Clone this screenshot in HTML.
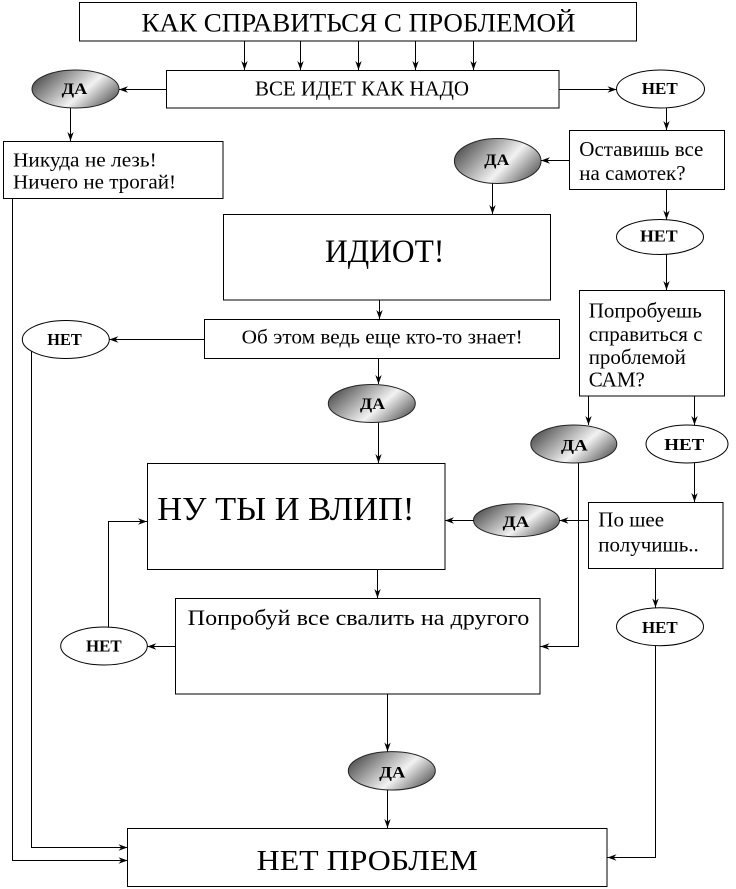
<!DOCTYPE html>
<html><head><meta charset="utf-8"><style>
html,body{margin:0;padding:0;background:#fff;}
svg{display:block;}
text{font-family:"Liberation Serif","DejaVu Serif",serif;fill:#000;}
.b{font-weight:bold;}
</style></head><body>
<svg width="736" height="889" viewBox="0 0 736 889" xmlns="http://www.w3.org/2000/svg">
<defs>
<marker id="a" markerUnits="userSpaceOnUse" markerWidth="10" markerHeight="8" refX="9" refY="4" orient="auto">
<path d="M0,0.8 L9,4 L0,7.2 L2.8,4 z" fill="#000"/>
</marker>
<linearGradient id="g" x1="0" y1="0.25" x2="1" y2="0.75">
<stop offset="0" stop-color="#4c4c4c"/>
<stop offset="0.6" stop-color="#f2f2f2"/>
<stop offset="1" stop-color="#5a5a5a"/>
</linearGradient>
</defs>
<g fill="#fff" stroke="#000" stroke-width="1">
<rect x="79.5" y="2.5" width="557" height="38.5"/>
<rect x="166.5" y="70.5" width="392.5" height="37.5"/>
<rect x="3.5" y="141.5" width="219.5" height="57"/>
<rect x="569.5" y="130.5" width="155" height="59"/>
<rect x="223.5" y="214.5" width="327" height="85.5"/>
<rect x="204.5" y="319.5" width="355" height="39"/>
<rect x="579.5" y="290.5" width="145" height="105.5"/>
<rect x="147.5" y="463.5" width="297.5" height="106"/>
<rect x="588.5" y="502.5" width="134.5" height="66"/>
<rect x="175.5" y="598.5" width="364.5" height="95.5"/>
<rect x="127.5" y="828.5" width="479.5" height="58"/>
</g>
<g fill="#fff" stroke="#000" stroke-width="1">
<ellipse cx="660.5" cy="89" rx="44" ry="19"/>
<ellipse cx="660" cy="237" rx="43.5" ry="17.5"/>
<ellipse cx="65.8" cy="339.5" rx="43.5" ry="19"/>
<ellipse cx="687" cy="444" rx="41" ry="19"/>
<ellipse cx="104" cy="646" rx="43.3" ry="19"/>
<ellipse cx="660" cy="626.7" rx="43.5" ry="19"/>
</g>
<g fill="url(#g)" stroke="#222" stroke-width="1">
<ellipse cx="75.5" cy="89" rx="43.5" ry="19"/>
<ellipse cx="497.7" cy="161" rx="43.3" ry="22.5"/>
<ellipse cx="371.8" cy="403.5" rx="43.5" ry="19"/>
<ellipse cx="573.8" cy="444" rx="43" ry="19"/>
<ellipse cx="516.5" cy="520.3" rx="43" ry="16.5"/>
<ellipse cx="391.8" cy="770.8" rx="43.5" ry="19.2"/>
</g>
<g stroke="#000" stroke-width="1" fill="none" marker-end="url(#a)">
<line x1="244.5" y1="41" x2="244.5" y2="70"/>
<line x1="300.5" y1="41" x2="300.5" y2="70"/>
<line x1="358.5" y1="41" x2="358.5" y2="70"/>
<line x1="415.5" y1="41" x2="415.5" y2="70"/>
<line x1="473.5" y1="41" x2="473.5" y2="70"/>
<line x1="166" y1="89.5" x2="119" y2="89.5"/>
<line x1="70.5" y1="108" x2="70.5" y2="141"/>
<line x1="559" y1="89.5" x2="616.5" y2="89.5"/>
<line x1="666.5" y1="108" x2="666.5" y2="130"/>
<line x1="569" y1="160.5" x2="541" y2="160.5"/>
<line x1="492.5" y1="183.5" x2="492.5" y2="214"/>
<line x1="666.5" y1="189.5" x2="666.5" y2="219.5"/>
<line x1="666.5" y1="254.5" x2="666.5" y2="290"/>
<line x1="379.5" y1="300" x2="379.5" y2="319"/>
<line x1="204" y1="339.5" x2="109.3" y2="339.5"/>
<line x1="378.5" y1="358.5" x2="378.5" y2="384"/>
<line x1="378.5" y1="422.7" x2="378.5" y2="463"/>
<line x1="588.5" y1="396" x2="588.5" y2="425"/>
<line x1="694.5" y1="396" x2="694.5" y2="425"/>
<line x1="694.5" y1="463" x2="694.5" y2="502"/>
<line x1="588.5" y1="520.5" x2="559.5" y2="520.5"/>
<line x1="473.7" y1="520.5" x2="445" y2="520.5"/>
<line x1="377.5" y1="569.5" x2="377.5" y2="598"/>
<line x1="175" y1="646.5" x2="147.3" y2="646.5"/>
<line x1="655.5" y1="568.5" x2="655.5" y2="607.5"/>
<line x1="387.5" y1="694" x2="387.5" y2="751.5"/>
<line x1="387.5" y1="790" x2="387.5" y2="828"/>
<polyline points="12.5,198.5 12.5,860.5 127.5,860.5"/>
<polyline points="31.5,351 31.5,847.5 127.5,847.5"/>
<polyline points="108.5,627 108.5,521.5 147,521.5"/>
<polyline points="578.5,463 578.5,646.5 540.5,646.5"/>
<polyline points="655.5,645.7 655.5,857.5 607.5,857.5"/>
</g>
<text x="141.5" y="31.5" font-size="26" textLength="434" lengthAdjust="spacingAndGlyphs">КАК СПРАВИТЬСЯ С ПРОБЛЕМОЙ</text>
<text x="255" y="95.7" font-size="21" textLength="214" lengthAdjust="spacingAndGlyphs">ВСЕ ИДЕТ КАК НАДО</text>
<text class="b" x="61.7" y="94" font-size="16" textLength="25.6" lengthAdjust="spacingAndGlyphs">ДА</text>
<text class="b" x="641.7" y="94" font-size="17" textLength="36" lengthAdjust="spacingAndGlyphs">НЕТ</text>
<text x="13" y="166.7" font-size="20" textLength="143.7" lengthAdjust="spacingAndGlyphs">Никуда не лезь!</text>
<text x="13" y="188.3" font-size="20" textLength="163" lengthAdjust="spacingAndGlyphs">Ничего не трогай!</text>
<text x="579.3" y="156" font-size="21">Оставишь все</text>
<text x="579.3" y="180" font-size="21">на самотек?</text>
<text class="b" x="484.3" y="165" font-size="16" textLength="25" lengthAdjust="spacingAndGlyphs">ДА</text>
<text class="b" x="640" y="241.5" font-size="17" textLength="37.7" lengthAdjust="spacingAndGlyphs">НЕТ</text>
<text x="325" y="262" font-size="33" textLength="119.3" lengthAdjust="spacingAndGlyphs">ИДИОТ!</text>
<text x="241.7" y="343.3" font-size="20" textLength="281" lengthAdjust="spacingAndGlyphs">Об этом ведь еще кто-то знает!</text>
<text class="b" x="47.3" y="345" font-size="17" textLength="34.4" lengthAdjust="spacingAndGlyphs">НЕТ</text>
<text class="b" x="360" y="409" font-size="16" textLength="25" lengthAdjust="spacingAndGlyphs">ДА</text>
<text x="588.7" y="317.3" font-size="21">Попробуешь</text>
<text x="588.7" y="341" font-size="21">справиться с</text>
<text x="588.7" y="364" font-size="21">проблемой</text>
<text x="588.7" y="386.7" font-size="21">САМ?</text>
<text class="b" x="561" y="450.5" font-size="16" textLength="26.7" lengthAdjust="spacingAndGlyphs">ДА</text>
<text class="b" x="664.3" y="450" font-size="17" textLength="40" lengthAdjust="spacingAndGlyphs">НЕТ</text>
<text x="157.3" y="520" font-size="34" textLength="257" lengthAdjust="spacingAndGlyphs">НУ ТЫ И ВЛИП!</text>
<text class="b" x="502.7" y="527" font-size="16" textLength="26.6" lengthAdjust="spacingAndGlyphs">ДА</text>
<text x="598.3" y="526.7" font-size="21">По шее</text>
<text x="598.3" y="551.7" font-size="21">получишь..</text>
<text x="187.7" y="625" font-size="22.5" textLength="341.6" lengthAdjust="spacingAndGlyphs">Попробуй все свалить на другого</text>
<text class="b" x="86" y="651.7" font-size="17" textLength="35.7" lengthAdjust="spacingAndGlyphs">НЕТ</text>
<text class="b" x="642" y="633" font-size="17" textLength="35.7" lengthAdjust="spacingAndGlyphs">НЕТ</text>
<text class="b" x="379.3" y="777.5" font-size="16" textLength="26" lengthAdjust="spacingAndGlyphs">ДА</text>
<text x="256.7" y="870" font-size="29" textLength="221" lengthAdjust="spacingAndGlyphs">НЕТ ПРОБЛЕМ</text>
</svg>
</body></html>
